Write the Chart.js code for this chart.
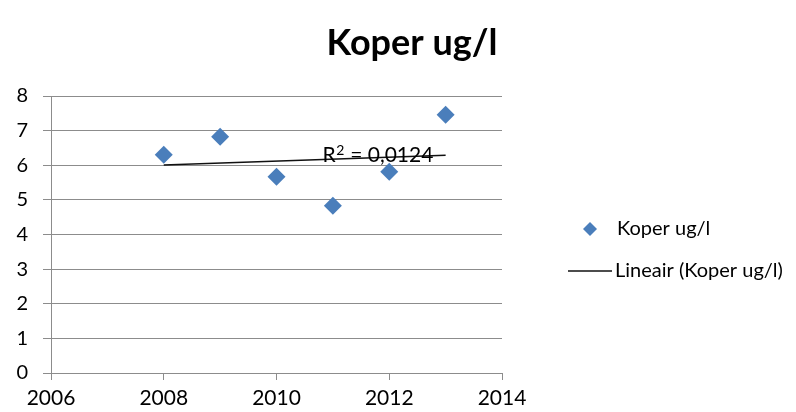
<!DOCTYPE html>
<html>
<head>
<meta charset="utf-8">
<script src="https://cdn.jsdelivr.net/npm/chart.js@4/dist/chart.umd.min.js"></script>
<style>
  html, body { margin: 0; padding: 0; background: #ffffff; }
  #wrap { width: 796px; height: 412px; position: relative; }
</style>
</head>
<body>
<div id="wrap"><canvas id="c" width="796" height="412"></canvas></div>
<script>
// Copper concentration per year (ug/l)
const years = [2008, 2009, 2010, 2011, 2012, 2013];
const copper = [6.30, 6.82, 5.67, 4.83, 5.81, 7.46];

// Axis ticks
const xTicks = [2006, 2008, 2010, 2012, 2014];
const yTicks = [0, 1, 2, 3, 4, 5, 6, 7, 8];

// Texts
const chartTitle = 'Koper ug/l';
const seriesName = 'Koper ug/l';
const trendName = 'Lineair (Koper ug/l)';

// Where the R² label sits, in data units
const r2Anchor = { x: 2011.8, y: 6.08 };

const FONT = 'Lato, "Open Sans", sans-serif';
const MARKER = '#4a7ebb';
const GRID = '#8c8c8c';

// Least-squares fit of the series
function linearFit(xs, ys) {
  const n = xs.length;
  const mx = xs.reduce((a, b) => a + b, 0) / n;
  const my = ys.reduce((a, b) => a + b, 0) / n;
  let sxy = 0, sxx = 0, syy = 0;
  for (let i = 0; i < n; i++) {
    sxy += (xs[i] - mx) * (ys[i] - my);
    sxx += (xs[i] - mx) ** 2;
    syy += (ys[i] - my) ** 2;
  }
  const slope = sxy / sxx;
  return { slope, intercept: my - slope * mx, r2: (sxy * sxy) / (sxx * syy) };
}

const fit = linearFit(years, copper);
const xFirst = years[0], xLast = years[years.length - 1];
const trendPoints = [
  { x: xFirst, y: fit.intercept + fit.slope * xFirst },
  { x: xLast, y: fit.intercept + fit.slope * xLast }
];
const r2Value = fit.r2.toFixed(4).replace('.', ',');

const decor = {
  id: 'decor',
  afterDatasetsDraw(chart) {
    const { ctx, scales } = chart;
    const cx = scales.x.getPixelForValue(r2Anchor.x);
    const by = scales.y.getPixelForValue(r2Anchor.y);
    const main = '21px ' + FONT, sup = '14px ' + FONT;
    const rest = ' = ' + r2Value;
    ctx.save();
    ctx.fillStyle = '#000';
    ctx.textAlign = 'left';
    ctx.textBaseline = 'alphabetic';
    ctx.font = main;
    const wR = ctx.measureText('R').width;
    const wRest = ctx.measureText(rest).width;
    ctx.font = sup;
    const wSup = ctx.measureText('2').width;
    let x = cx - (wR + wSup + 1 + wRest) / 2;
    ctx.font = main;
    ctx.fillText('R', x, by);
    x += wR + 0.5;
    ctx.font = sup;
    ctx.fillText('2', x, by - 7);
    x += wSup + 0.5;
    ctx.font = main;
    ctx.fillText(rest, x, by);
    ctx.restore();
  },
  afterDraw(chart) {
    const { ctx } = chart;
    ctx.save();
    // Title
    ctx.fillStyle = '#000';
    ctx.font = 'bold 36px ' + FONT;
    ctx.textAlign = 'center';
    ctx.textBaseline = 'alphabetic';
    ctx.fillText(chartTitle, 412, 55);

    // Legend
    ctx.font = '20px ' + FONT;
    ctx.textAlign = 'left';
    ctx.textBaseline = 'middle';
    const mx = 590, my = 229, r = 7;
    ctx.fillStyle = MARKER;
    ctx.beginPath();
    ctx.moveTo(mx, my - r);
    ctx.lineTo(mx + r, my);
    ctx.lineTo(mx, my + r);
    ctx.lineTo(mx - r, my);
    ctx.closePath();
    ctx.fill();
    ctx.fillStyle = '#000';
    ctx.fillText(seriesName, 617, my);

    const ly = 271;
    ctx.strokeStyle = '#111';
    ctx.lineWidth = 1.5;
    ctx.beginPath();
    ctx.moveTo(568, ly);
    ctx.lineTo(612, ly);
    ctx.stroke();
    ctx.fillText(trendName, 615, ly);
    ctx.restore();
  }
};

new Chart(document.getElementById('c'), {
  type: 'scatter',
  data: {
    datasets: [
      {
        label: seriesName,
        data: years.map((x, i) => ({ x, y: copper[i] })),
        pointStyle: 'rectRot',
        pointRadius: 9,
        pointHoverRadius: 9,
        backgroundColor: MARKER,
        borderWidth: 0,
        order: 1
      },
      {
        type: 'line',
        label: trendName,
        data: trendPoints,
        borderColor: '#111',
        borderWidth: 1.5,
        pointRadius: 0,
        fill: false,
        order: 2
      }
    ]
  },
  options: {
    responsive: false,
    animation: false,
    devicePixelRatio: 1,
    layout: { padding: { top: 96, right: 294, left: 0, bottom: 0 } },
    plugins: {
      legend: { display: false },
      title: { display: false },
      tooltip: { enabled: false }
    },
    scales: {
      x: {
        type: 'linear',
        min: xTicks[0],
        max: xTicks[xTicks.length - 1],
        afterBuildTicks: s => { s.ticks = xTicks.map(v => ({ value: v })); },
        afterFit: s => { s.height = 39; },
        grid: { drawOnChartArea: false, drawTicks: true, tickLength: 7, color: GRID, lineWidth: 1 },
        border: { display: true, color: GRID, width: 1 },
        ticks: {
          color: '#000',
          font: { family: FONT, size: 21 },
          padding: 6,
          maxRotation: 0,
          callback: v => String(v)
        }
      },
      y: {
        min: yTicks[0],
        max: yTicks[yTicks.length - 1],
        afterBuildTicks: s => { s.ticks = yTicks.map(v => ({ value: v })); },
        afterFit: s => { s.width = 51; },
        grid: { drawOnChartArea: true, drawTicks: true, tickLength: 8, color: GRID, lineWidth: 1 },
        border: { display: true, color: GRID, width: 1 },
        ticks: {
          color: '#000',
          font: { family: FONT, size: 20 },
          padding: 15,
          callback: v => String(v)
        }
      }
    }
  },
  plugins: [decor]
});
</script>
</body>
</html>
